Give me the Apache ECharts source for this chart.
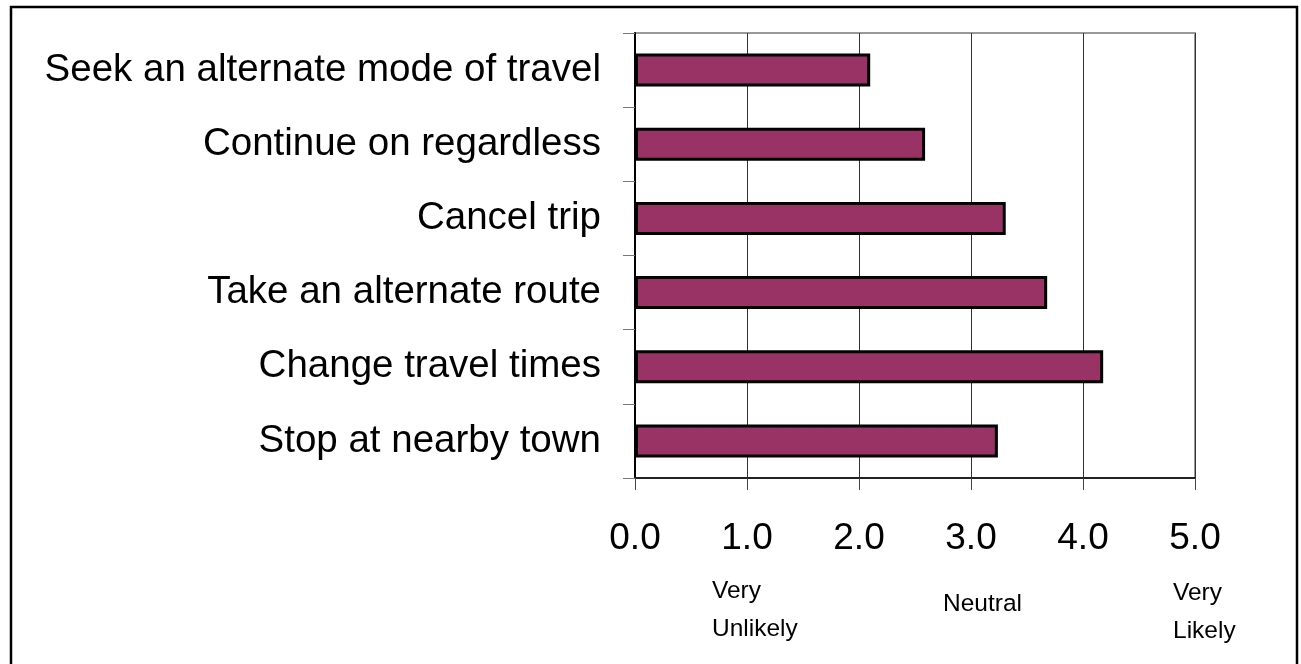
<!DOCTYPE html>
<html>
<head>
<meta charset="utf-8">
<script src="https://cdn.jsdelivr.net/npm/echarts@6/dist/echarts.min.js"></script>
<style>
html,body{margin:0;padding:0;background:#fff;}
#chart{width:1301px;height:664px;}
</style>
</head>
<body>
<div id="chart"></div>
<script>
const categories = [
  "Seek an alternate mode of travel",
  "Continue on regardless",
  "Cancel trip",
  "Take an alternate route",
  "Change travel times",
  "Stop at nearby town"
];
const values = [2.1, 2.59, 3.31, 3.68, 4.18, 3.24];
const scaleNotes = [
  {text: "Very\nUnlikely", x: 712, y: 572},
  {text: "Neutral", x: 943, y: 585},
  {text: "Very\nLikely", x: 1173, y: 574}
];

const FONT = '"Liberation Sans", Arial, sans-serif';
const chart = echarts.init(document.getElementById('chart'));
chart.setOption({
  animation: false,
  backgroundColor: '#fff',
  grid: {
    left: 635, right: 106, top: 33, bottom: 186,
    show: true, borderColor: '#999', borderWidth: 2, backgroundColor: 'transparent'
  },
  xAxis: {
    type: 'value', min: 0, max: 5, interval: 1,
    axisLine: {show: true, lineStyle: {color: '#222', width: 2}},
    axisTick: {show: true, length: 12, lineStyle: {color: '#444', width: 1}},
    splitLine: {show: true, lineStyle: {color: '#333', width: 1}},
    axisLabel: {
      fontFamily: FONT, fontSize: 37, color: '#000', margin: 42,
      formatter: v => v.toFixed(1)
    }
  },
  yAxis: {
    type: 'category', data: categories, inverse: true,
    axisLine: {show: true, onZero: false, lineStyle: {color: '#000', width: 2}},
    axisTick: {show: true, length: 12, lineStyle: {color: '#777', width: 1}},
    splitLine: {show: false},
    axisLabel: {fontFamily: FONT, fontSize: 38.5, color: '#000', margin: 34}
  },
  series: [{
    type: 'bar',
    data: values,
    barWidth: 33,
    itemStyle: {color: '#993366', borderColor: '#000', borderWidth: 3}
  }],
  graphic: [
    {
      type: 'rect', silent: true, z: 100,
      shape: {x: 11, y: 7, width: 1286, height: 680},
      style: {fill: 'none', stroke: '#000', lineWidth: 2.5}
    }
  ].concat(scaleNotes.map(n => ({
    type: 'text', silent: true, left: n.x, top: n.y,
    style: {text: n.text, font: '24.5px ' + FONT, fill: '#000', lineHeight: 38, textAlign: 'left'}
  })))
});
</script>
</body>
</html>
